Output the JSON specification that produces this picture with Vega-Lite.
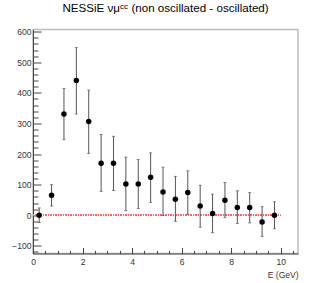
{
  "$schema": "https://vega.github.io/schema/vega-lite/v6.json",
  "width": 265,
  "height": 224,
  "autosize": "none",
  "padding": {"left": 33, "top": 29.5, "right": 34, "bottom": 29.5},
  "background": "white",
  "title": {
    "text": "NESSiE νμᶜᶜ (non oscillated - oscillated)",
    "font": "Liberation Sans, Arial, sans-serif",
    "fontSize": 11.6,
    "fontWeight": "normal",
    "color": "#000",
    "anchor": "middle",
    "offset": 13
  },
  "config": {
    "view": {"stroke": "#bbb", "strokeWidth": 1.5},
    "axis": {
      "labelFont": "Liberation Sans, Arial, sans-serif",
      "labelFontSize": 8.5,
      "labelColor": "#333",
      "domainColor": "#444",
      "tickColor": "#444",
      "grid": false,
      "titleFont": "Liberation Sans, Arial, sans-serif",
      "titleFontSize": 8.5,
      "titleFontWeight": "normal",
      "titleColor": "#333"
    }
  },
  "data": {
    "values": [
      {"E": 0.25, "N": 0, "lo": -24, "hi": 24},
      {"E": 0.75, "N": 65, "lo": 30, "hi": 100},
      {"E": 1.25, "N": 331, "lo": 247, "hi": 414},
      {"E": 1.75, "N": 440, "lo": 331, "hi": 548},
      {"E": 2.25, "N": 306, "lo": 202, "hi": 409},
      {"E": 2.75, "N": 170, "lo": 78, "hi": 264},
      {"E": 3.25, "N": 170, "lo": 81, "hi": 258},
      {"E": 3.75, "N": 102, "lo": 15, "hi": 190},
      {"E": 4.25, "N": 102, "lo": 22, "hi": 182},
      {"E": 4.75, "N": 124, "lo": 42, "hi": 204},
      {"E": 5.25, "N": 76, "lo": -1, "hi": 157},
      {"E": 5.75, "N": 52, "lo": -20, "hi": 127},
      {"E": 6.25, "N": 74, "lo": 3, "hi": 145},
      {"E": 6.75, "N": 30, "lo": -39, "hi": 98},
      {"E": 7.25, "N": 6, "lo": -57, "hi": 69},
      {"E": 7.75, "N": 49, "lo": -8, "hi": 107},
      {"E": 8.25, "N": 25, "lo": -27, "hi": 80},
      {"E": 8.75, "N": 25, "lo": -25, "hi": 74},
      {"E": 9.25, "N": -22, "lo": -69, "hi": 28},
      {"E": 9.75, "N": 0, "lo": -44, "hi": 44}
    ]
  },
  "encoding": {
    "x": {
      "field": "E",
      "type": "quantitative",
      "scale": {"domain": [0, 10.7], "nice": false, "zero": false},
      "axis": {
        "title": "E (GeV)",
        "titleAnchor": "end",
        "titleAlign": "right",
        "titlePadding": 1,
        "values": [0, 0.5, 1, 1.5, 2, 2.5, 3, 3.5, 4, 4.5, 5, 5.5, 6, 6.5, 7, 7.5, 8, 8.5, 9, 9.5, 10, 10.5],
        "format": "~g",
        "labelExpr": "datum.value % 2 === 0 ? datum.label : ''",
        "tickSize": {"condition": {"test": "datum.value % 2 === 0", "value": -6}, "value": -3},
        "labelPadding": 10,
        "labelFlush": false,
        "labelOverlap": false
      }
    },
    "y": {
      "field": "N",
      "type": "quantitative",
      "scale": {"domain": [-125, 607], "nice": false, "zero": false},
      "axis": {
        "title": null,
        "values": [-120, -100, -80, -60, -40, -20, 0, 20, 40, 60, 80, 100, 120, 140, 160, 180, 200, 220, 240, 260, 280, 300, 320, 340, 360, 380, 400, 420, 440, 460, 480, 500, 520, 540, 560, 580, 600],
        "labelExpr": "datum.value % 100 === 0 ? datum.label : ''",
        "tickSize": {"condition": {"test": "datum.value % 100 === 0", "value": -8}, "value": -5},
        "labelPadding": 10,
        "labelFlush": false,
        "labelOverlap": false
      }
    }
  },
  "layer": [
    {
      "mark": {"type": "rule", "color": "#ff6060", "strokeDash": [1, 1.5], "strokeWidth": 1},
      "encoding": {
        "x": {"datum": 0},
        "x2": {"datum": 10},
        "y": {"datum": 0}
      }
    },
    {
      "mark": {"type": "rule", "color": "#555", "strokeWidth": 1},
      "encoding": {"y": {"field": "lo", "type": "quantitative"}, "y2": {"field": "hi"}}
    },
    {
      "mark": {"type": "tick", "color": "#555", "orient": "horizontal", "size": 3, "thickness": 1},
      "encoding": {"y": {"field": "lo", "type": "quantitative"}}
    },
    {
      "mark": {"type": "tick", "color": "#555", "orient": "horizontal", "size": 3, "thickness": 1},
      "encoding": {"y": {"field": "hi", "type": "quantitative"}}
    },
    {
      "mark": {"type": "point", "filled": true, "color": "#000", "opacity": 1, "size": 30, "shape": "circle"}
    }
  ]
}
